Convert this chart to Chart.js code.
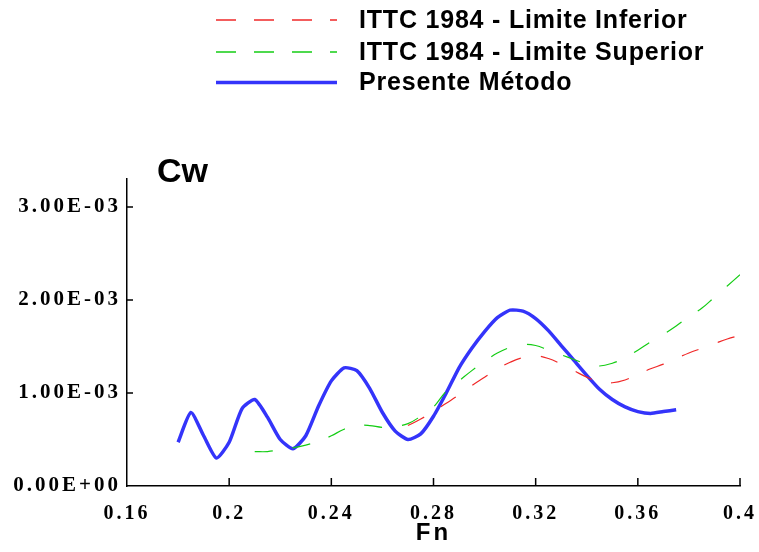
<!DOCTYPE html>
<html>
<head>
<meta charset="utf-8">
<title>Cw x Fn</title>
<script src="https://cdn.jsdelivr.net/npm/chart.js@4.4.0/dist/chart.umd.min.js"></script>
<style>
    html, body { margin: 0; padding: 0; background: #fff; }
    #wrap { width: 759px; height: 552px; }
</style>
</head>
<body>
<div id="wrap"><canvas id="chart-cw" width="759" height="552"></canvas></div>
<script>
// Cw values are in units of 1E-03
const fnInferior = [0.270, 0.275, 0.280, 0.285, 0.290, 0.295, 0.300, 0.305, 0.310, 0.315,
    0.320, 0.325, 0.330, 0.335, 0.340, 0.345, 0.350, 0.355, 0.360, 0.365,
    0.370, 0.375, 0.380, 0.385, 0.390, 0.395, 0.400];
const cwInferior = [0.65, 0.72, 0.80, 0.89, 0.98, 1.08, 1.17, 1.26, 1.33, 1.38,
    1.40, 1.37, 1.31, 1.24, 1.17, 1.12, 1.11, 1.14, 1.20, 1.26,
    1.31, 1.37, 1.43, 1.48, 1.53, 1.58, 1.62];

const fnSuperior = [0.210, 0.215, 0.220, 0.225, 0.230, 0.235, 0.240, 0.245, 0.250, 0.255,
    0.260, 0.265, 0.270, 0.275, 0.280, 0.285, 0.290, 0.295, 0.300, 0.305,
    0.310, 0.315, 0.320, 0.325, 0.330, 0.335, 0.340, 0.345, 0.350, 0.355,
    0.360, 0.365, 0.370, 0.375, 0.380, 0.385, 0.390, 0.395, 0.400];
const cwSuperior = [0.37, 0.37, 0.39, 0.41, 0.44, 0.48, 0.54, 0.61, 0.65, 0.65,
    0.63, 0.64, 0.67, 0.75, 0.85, 1.02, 1.13, 1.24, 1.34, 1.43,
    1.49, 1.52, 1.51, 1.46, 1.41, 1.36, 1.31, 1.29, 1.32, 1.38,
    1.46, 1.55, 1.63, 1.72, 1.82, 1.91, 2.03, 2.15, 2.27];

const fnPresente = [0.180, 0.185, 0.190, 0.195, 0.200, 0.205, 0.210, 0.215, 0.220, 0.225,
    0.230, 0.235, 0.240, 0.245, 0.250, 0.255, 0.260, 0.265, 0.270, 0.275,
    0.280, 0.285, 0.290, 0.295, 0.300, 0.305, 0.310, 0.315, 0.320, 0.325,
    0.330, 0.335, 0.340, 0.345, 0.350, 0.355, 0.360, 0.365, 0.370, 0.375];
const cwPresente = [0.47, 0.79, 0.54, 0.30, 0.47, 0.83, 0.93, 0.74, 0.50, 0.40,
    0.54, 0.86, 1.13, 1.27, 1.24, 1.05, 0.79, 0.59, 0.50, 0.56,
    0.75, 1.00, 1.27, 1.48, 1.66, 1.81, 1.89, 1.88, 1.80, 1.67,
    1.51, 1.35, 1.19, 1.04, 0.93, 0.85, 0.80, 0.78, 0.80, 0.82];

const xTicks = [0.16, 0.2, 0.24, 0.28, 0.32, 0.36, 0.4];
const yTicks = [0, 1, 2, 3];

const toPoints = (xs, ys) => xs.map((x, i) => ({ x: x, y: ys[i] }));

/**
 * Tick marks pointing into the plot, letter spacing for tick labels,
 * the vertical legend and the "Cw" label
 */
const decorPlugin = {
    id: 'decor',
    beforeDraw(chart) {
        chart.ctx.letterSpacing = '3px';
    },
    beforeDatasetsDraw(chart) {
        const ctx = chart.ctx;
        ctx.letterSpacing = '0px';
        const { x, y } = chart.scales;
        ctx.save();
        ctx.strokeStyle = '#000';
        ctx.lineWidth = 1.5;
        ctx.beginPath();
        x.ticks.forEach(t => {
            if (t.value === x.min) return;
            const px = x.getPixelForValue(t.value);
            ctx.moveTo(px, y.bottom);
            ctx.lineTo(px, y.bottom - 8);
        });
        y.ticks.forEach(t => {
            if (t.value === y.min) return;
            const py = y.getPixelForValue(t.value);
            ctx.moveTo(x.left, py);
            ctx.lineTo(x.left + 6, py);
        });
        ctx.stroke();
        ctx.restore();
    },
    afterDraw(chart) {
        const ctx = chart.ctx;
        const rows = [20, 52, 82.5];
        ctx.save();
        ctx.letterSpacing = '0.8px';
        ctx.fillStyle = '#000';
        ctx.textBaseline = 'alphabetic';
        ctx.font = 'bold 25px "Liberation Sans", Arial, sans-serif';
        chart.data.datasets.forEach((ds, i) => {
            const rowY = rows[i];
            ctx.save();
            ctx.strokeStyle = ds.borderColor;
            ctx.lineWidth = ds.borderWidth > 2 ? ds.borderWidth : 1.6;
            ctx.setLineDash(ds.legendDash || []);
            ctx.beginPath();
            ctx.moveTo(216, rowY);
            ctx.lineTo(337, rowY);
            ctx.stroke();
            ctx.restore();
            ctx.fillText(ds.label, 359, rowY + 7.5);
        });

        ctx.letterSpacing = '0px';
        ctx.font = 'bold 34px "Liberation Sans", Arial, sans-serif';
        ctx.fillText('Cw', 157, 182);
        ctx.restore();
    }
};

const chartCw = new Chart(document.getElementById('chart-cw'), {
    type: 'line',
    data: {
        datasets: [{
            label: 'ITTC 1984 - Limite Inferior',
            data: toPoints(fnInferior, cwInferior),
            borderColor: 'rgb(240, 40, 40)',
            borderWidth: 1.2,
            borderDash: [18, 20],
            legendDash: [20, 18],
            tension: 0.4,
            pointRadius: 0
        }, {
            label: 'ITTC 1984 - Limite Superior',
            data: toPoints(fnSuperior, cwSuperior),
            borderColor: 'rgb(20, 205, 20)',
            borderWidth: 1.2,
            borderDash: [18, 20],
            legendDash: [20, 18],
            tension: 0.4,
            pointRadius: 0
        }, {
            label: 'Presente Método',
            data: toPoints(fnPresente, cwPresente),
            borderColor: 'rgb(52, 52, 250)',
            borderWidth: 3.5,
            tension: 0.2,
            pointRadius: 0
        }]
    },
    options: {
        responsive: false,
        animation: false,
        layout: {
            padding: { top: 179, right: 19, bottom: 0, left: 0 }
        },
        plugins: {
            legend: { display: false },
            tooltip: { enabled: false }
        },
        scales: {
            x: {
                type: 'linear',
                min: 0.16,
                max: 0.4,
                afterBuildTicks: s => { s.ticks = xTicks.map(v => ({ value: v })); },
                afterFit: s => {
                    s.height = 66;
                    s.paddingLeft = 0;
                    s.paddingRight = 0;
                },
                grid: { display: false, drawTicks: false },
                border: { display: true, color: '#000', width: 1.5 },
                ticks: {
                    color: '#000',
                    padding: 16,
                    maxRotation: 0,
                    font: { family: '"Liberation Serif", "Times New Roman", serif', size: 20, weight: 'bold' },
                    callback: v => String(Math.round(v * 100) / 100)
                },
                title: {
                    display: true,
                    text: 'Fn',
                    color: '#000',
                    padding: { top: 0, bottom: 4 },
                    font: { family: '"Liberation Sans", Arial, sans-serif', size: 24, weight: 'bold' }
                }
            },
            y: {
                min: 0,
                max: 3.3,
                afterBuildTicks: s => { s.ticks = yTicks.map(v => ({ value: v })); },
                afterFit: s => { s.width = 127; },
                grid: { display: false, drawTicks: false },
                border: { display: true, color: '#000', width: 1.5 },
                ticks: {
                    color: '#000',
                    padding: 6,
                    font: { family: '"Liberation Serif", "Times New Roman", serif', size: 21, weight: 'bold' },
                    callback: v => v === 0 ? '0.00E+00' : v.toFixed(2) + 'E-03'
                }
            }
        }
    },
    plugins: [decorPlugin]
});
</script>
</body>
</html>
